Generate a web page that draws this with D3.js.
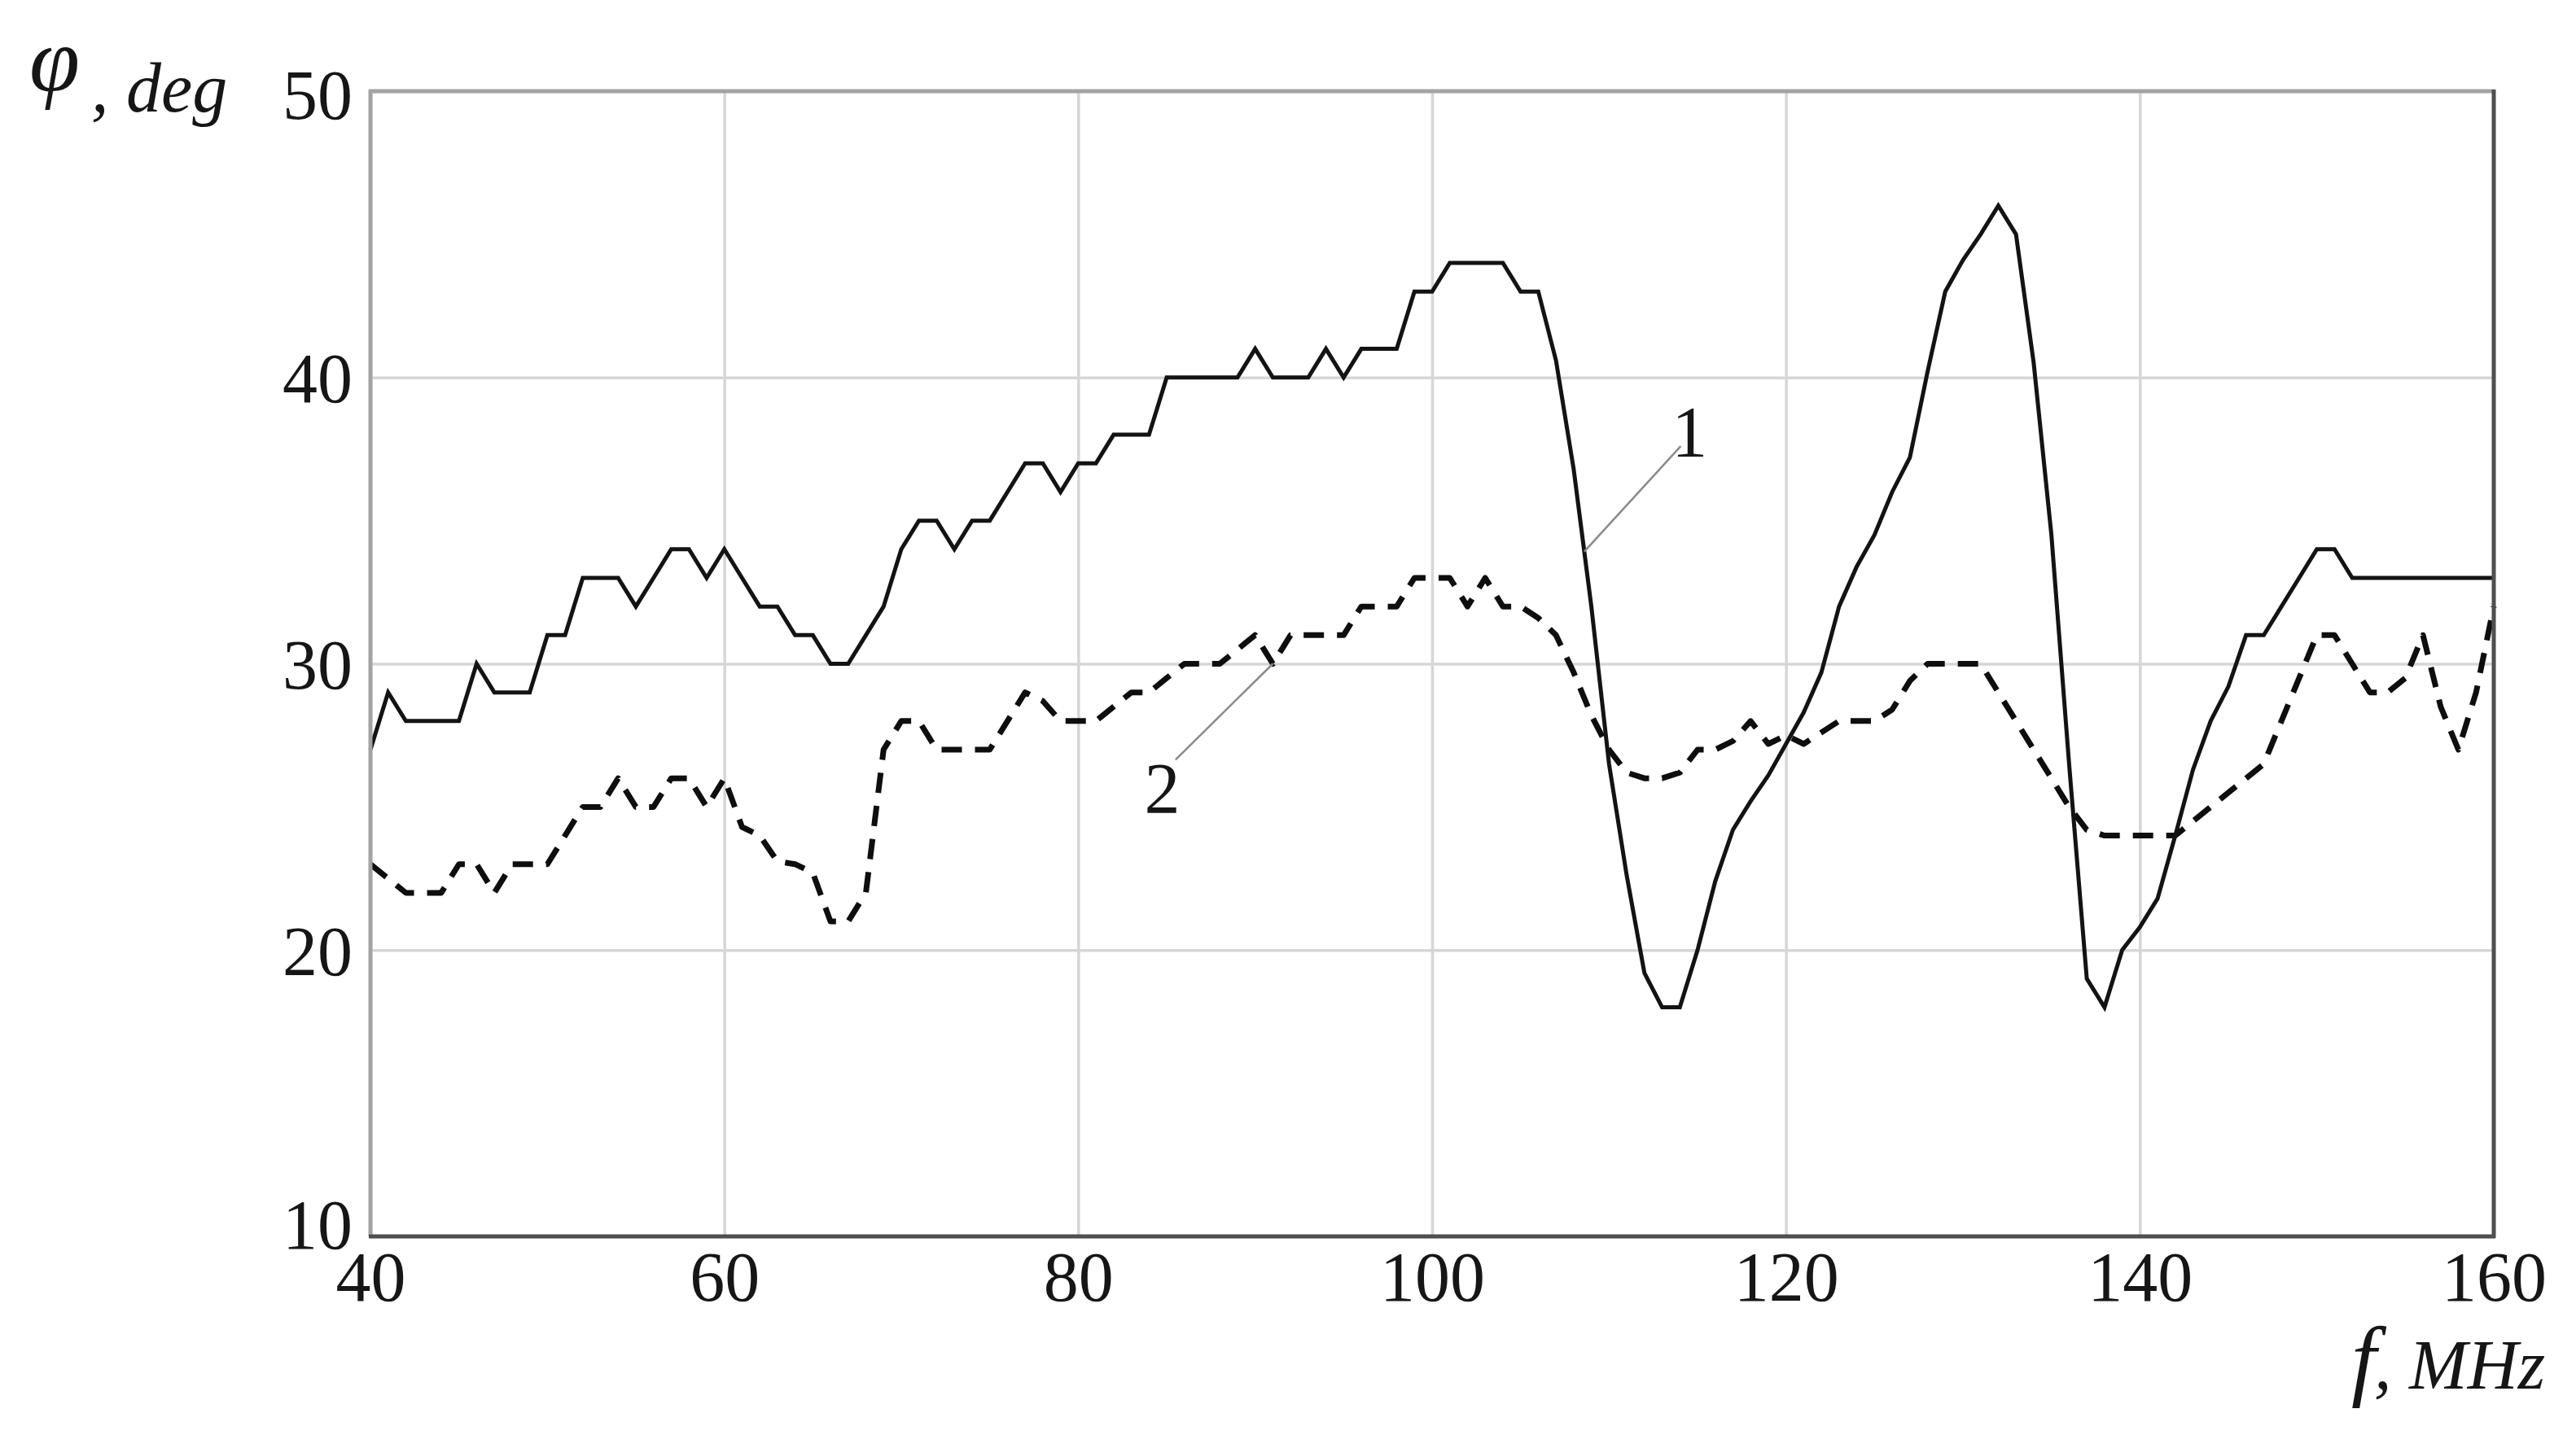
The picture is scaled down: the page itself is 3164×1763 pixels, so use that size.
<!DOCTYPE html>
<html>
<head>
<meta charset="utf-8">
<script src="https://cdn.jsdelivr.net/npm/d3@7"></script>
<style>
  html, body { margin: 0; padding: 0; background: #ffffff; }
  svg { display: block; }
  text { font-family: "Liberation Serif", "Times New Roman", serif; fill: #161616; }
</style>
</head>
<body>
<svg id="chart" width="3164" height="1763"></svg>
<script>
// ---- data ----
const freq = [40,41,42,43,44,45,46,47,48,49,50,51,52,53,54,55,56,57,58,59,
              60,61,62,63,64,65,66,67,68,69,70,71,72,73,74,75,76,77,78,79,
              80,81,82,83,84,85,86,87,88,89,90,91,92,93,94,95,96,97,98,99,
              100,101,102,103,104,105,106,107,108,109,110,111,112,113,114,115,116,117,118,119,
              120,121,122,123,124,125,126,127,128,129,130,131,132,133,134,135,136,137,138,139,
              140,141,142,143,144,145,146,147,148,149,150,151,152,153,154,155,156,157,158,159,
              160];

// curve 1 (solid)
const phi1 = [27,29,28,28,28,28,30,29,29,29,31,31,33,33,33,32,33,34,34,33,
              34,33,32,32,31,31,30,30,31,32,34,35,35,34,35,35,36,37,37,36,
              37,37,38,38,38,40,40,40,40,40,41,40,40,40,41,40,41,41,41,43,
              43,44,44,44,44,43,43,40.6,36.8,32,26.5,22.6,19.2,18,18,20,22.4,24.2,25.2,26.1,
              27.2,28.3,29.7,32,33.4,34.5,36,37.2,40.2,43,44.1,45,46,45,40.5,34.5,26.5,19,18,20,
              20.8,21.8,24,26.3,28,29.2,31,31,32,33,34,34,33,33,33,33,33,33,33,33,
              33];

// curve 2 (dashed)
const phi2 = [23,22.5,22,22,22,23,23,22,23,23,23,24,25,25,26,25,25,26,26,25,
              26,24.3,24,23.1,23,22.7,21,21,22,27,28,28,27,27,27,27,28,29,28.7,28,
              28,28,28.5,29,29,29.5,30,30,30,30.5,31,30,31,31,31,31,32,32,32,33,
              33,33,32,33,32,32,31.6,31,29.7,28.2,27,26.2,26,26,26.2,27,27,27.3,28,27.2,
              27.5,27.2,27.6,28,28,28,28.4,29.4,30,30,30,30,29,28,27,26,25,24.2,24,24,
              24,24,24,24.5,25,25.5,26,26.5,28,29.5,31,31,30,29,29,29.5,31,28.5,27,29,
              32];

const xTicks = [40, 60, 80, 100, 120, 140, 160];
const yTicks = [10, 20, 30, 40, 50];
const curveNames = ["1", "2"];

// ---- layout ----
const W = 3164, H = 1763;
const L = 455, R = 3063, T = 112, B = 1519;
const FONT = "'Liberation Serif', 'Times New Roman', serif";

const svg = d3.select("#chart");
svg.append("rect").attr("width", W).attr("height", H).attr("fill", "#ffffff");

const x = d3.scaleLinear().domain([40, 160]).range([L, R]);
const y = d3.scaleLinear().domain([10, 50]).range([B, T]);

// grid lines via axes
const gx = svg.append("g").attr("transform", `translate(0,${B})`)
  .call(d3.axisBottom(x).tickValues(xTicks).tickSize(-(B - T)).tickFormat(""));
gx.select(".domain").remove();
gx.selectAll("line").attr("stroke", "#d6d6d6").attr("stroke-width", 3.5);

const gy = svg.append("g").attr("transform", `translate(${L},0)`)
  .call(d3.axisLeft(y).tickValues(yTicks).tickSize(-(R - L)).tickFormat(""));
gy.select(".domain").remove();
gy.selectAll("line").attr("stroke", "#d6d6d6").attr("stroke-width", 3.5);

// curves
const pts1 = freq.map((f, i) => [f, phi1[i]]);
const pts2 = freq.map((f, i) => [f, phi2[i]]);
const line = d3.line().x(d => x(d[0])).y(d => y(d[1]));

svg.append("path").attr("d", line(pts2))
  .attr("fill", "none").attr("stroke", "#0e0e0e").attr("stroke-width", 7)
  .attr("stroke-dasharray", "25,16").attr("stroke-linejoin", "round");

svg.append("path").attr("d", line(pts1))
  .attr("fill", "none").attr("stroke", "#131313").attr("stroke-width", 5)
  .attr("stroke-linejoin", "miter");

// frame: left/top lighter, bottom/right darker
svg.append("line").attr("x1", L).attr("x2", L).attr("y1", T - 2).attr("y2", B)
  .attr("stroke", "#a3a3a3").attr("stroke-width", 5);
svg.append("line").attr("x1", L - 2).attr("x2", R).attr("y1", T).attr("y2", T)
  .attr("stroke", "#a3a3a3").attr("stroke-width", 5);
svg.append("line").attr("x1", L - 2).attr("x2", R + 2).attr("y1", B).attr("y2", B)
  .attr("stroke", "#4f4f4f").attr("stroke-width", 5);
svg.append("line").attr("x1", R).attr("x2", R).attr("y1", T - 2).attr("y2", B + 2)
  .attr("stroke", "#4f4f4f").attr("stroke-width", 5);

// tick labels via axes
const ax = svg.append("g").attr("transform", `translate(0,${B})`)
  .call(d3.axisBottom(x).tickValues(xTicks).tickSize(0).tickPadding(0).tickFormat(d3.format("d")));
ax.select(".domain").remove();
ax.selectAll("text").attr("font-size", 86).attr("dy", null).attr("y", 79)
  .attr("font-family", FONT).attr("fill", "#161616");

const ay = svg.append("g").attr("transform", `translate(${L},0)`)
  .call(d3.axisLeft(y).tickValues(yTicks).tickSize(0).tickPadding(0).tickFormat(d3.format("d")));
ay.select(".domain").remove();
ay.selectAll("text").attr("font-size", 86).attr("dy", null).attr("x", -22)
  .attr("y", d => d === 10 ? 14 : (d === 50 ? 33 : 30))
  .attr("font-family", FONT).attr("fill", "#161616");

// axis titles
svg.append("text").attr("x", 36).attr("y", 111)
  .attr("font-family", "'DejaVu Serif', serif")
  .attr("font-size", 112).attr("font-style", "italic").text("\u03C6");
svg.append("text").attr("x", 112).attr("y", 137)
  .attr("font-size", 86).attr("font-style", "italic").text(", deg");

svg.append("text").attr("x", 2888).attr("y", 1707)
  .attr("font-size", 110).attr("font-style", "italic").text("f");
svg.append("text").attr("x", 2916).attr("y", 1706)
  .attr("font-size", 86).attr("font-style", "italic").text(", MHz");

// curve labels with leader lines (anchored on the curves)
function interp(pts, f) {
  for (let i = 0; i < pts.length - 1; i++) {
    if (f >= pts[i][0] && f <= pts[i + 1][0]) {
      const t = (f - pts[i][0]) / (pts[i + 1][0] - pts[i][0]);
      return pts[i][1] + t * (pts[i + 1][1] - pts[i][1]);
    }
  }
  return pts[pts.length - 1][1];
}
const annotations = [
  { name: curveNames[0], pts: pts1, onCurve: 108.6, from: [114.05, 37.6], label: [114.55, 37.25] },
  { name: curveNames[1], pts: pts2, onCurve: 91.0, from: [85.5, 26.65], label: [84.75, 24.8] }
];
annotations.forEach(a => {
  svg.append("line")
    .attr("x1", x(a.from[0])).attr("y1", y(a.from[1]))
    .attr("x2", x(a.onCurve)).attr("y2", y(interp(a.pts, a.onCurve)))
    .attr("stroke", "#8a8a8a").attr("stroke-width", 2.5);
  svg.append("text").attr("x", x(a.label[0])).attr("y", y(a.label[1]))
    .attr("text-anchor", "middle").attr("font-size", 88).text(a.name);
});
</script>
</body>
</html>
